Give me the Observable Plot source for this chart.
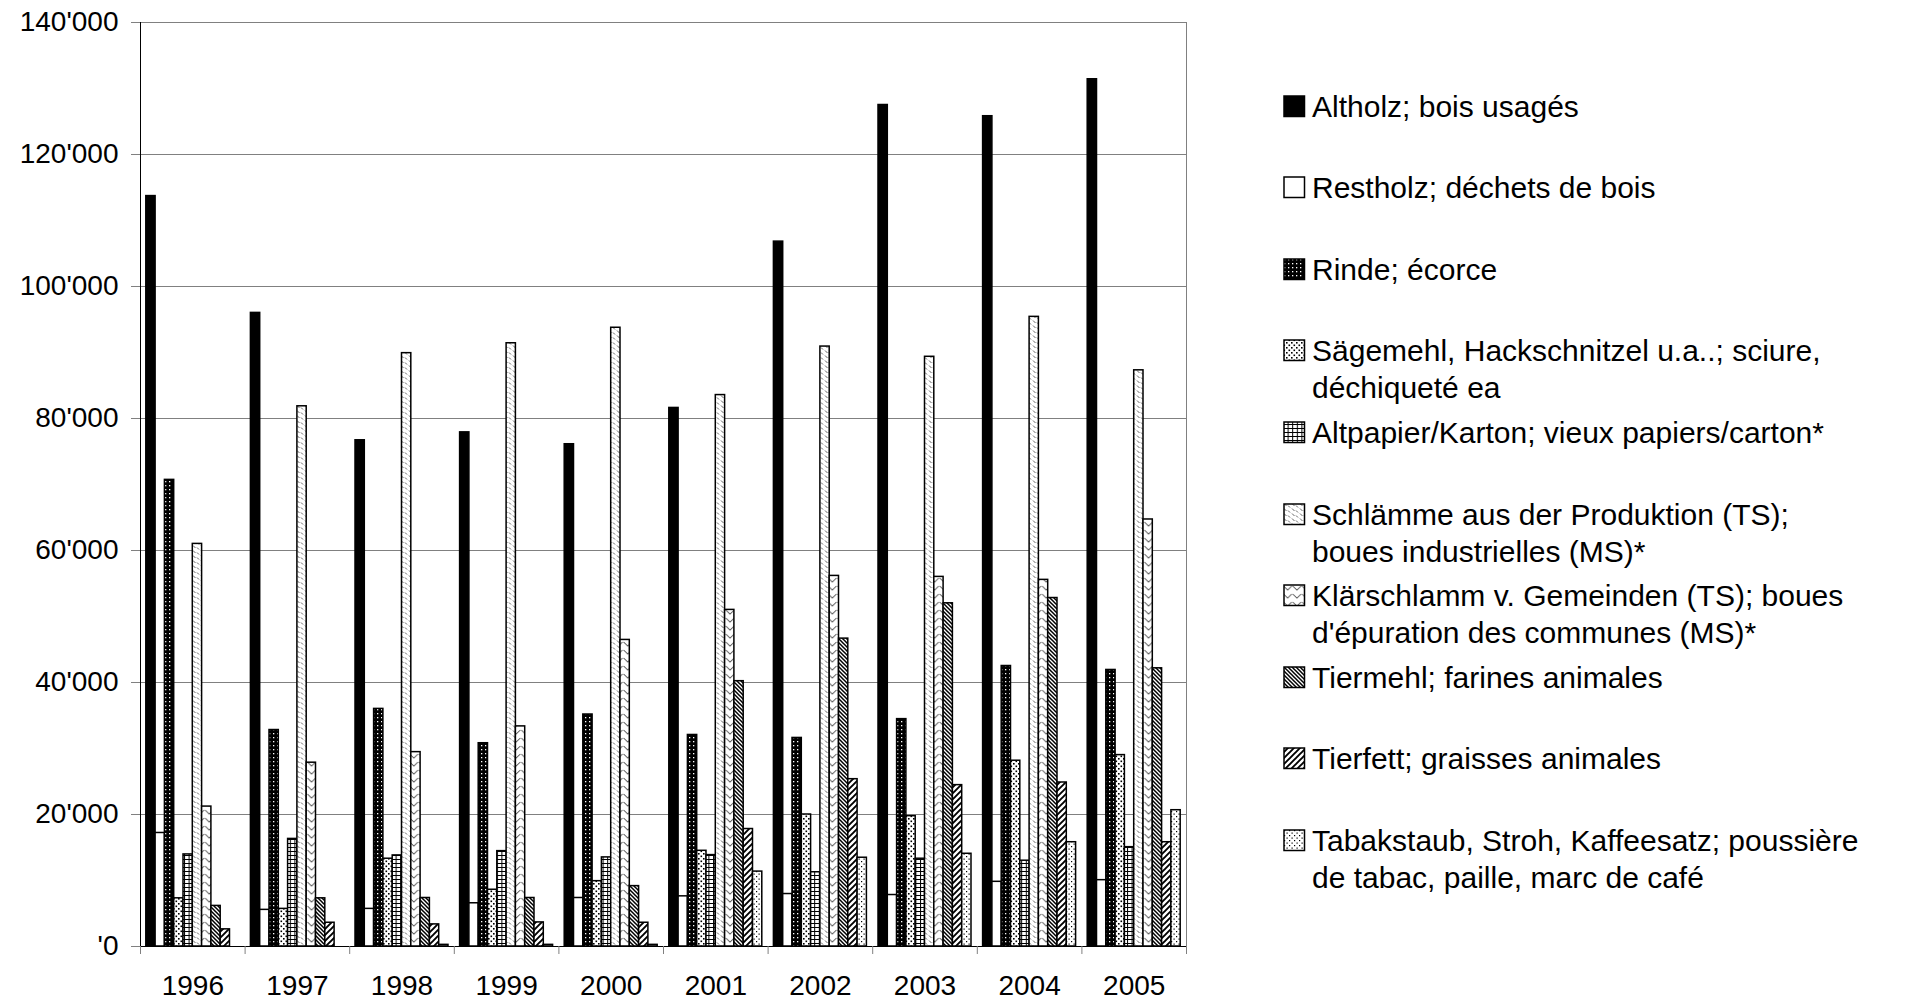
<!DOCTYPE html>
<html>
<head>
<meta charset="utf-8">
<script src="https://cdn.jsdelivr.net/npm/d3@7"></script>
<script src="https://cdn.jsdelivr.net/npm/@observablehq/plot@0.6"></script>
<style>
  html, body { margin: 0; padding: 0; background: white; }
  #wrap { position: relative; width: 1921px; height: 1003px; overflow: hidden; font-family: "Liberation Sans", Arial, sans-serif; }
  #legend .item { position: absolute; }
  #legend .txt { position: absolute; left: 29px; top: 0; font-size: 30px; line-height: 37px; white-space: pre; color: black; }
  #legend svg { position: absolute; left: 0; }
</style>
</head>
<body>
<svg width="0" height="0" style="position:absolute">
  <defs>
    <pattern id="pat0" patternUnits="userSpaceOnUse" width="4" height="4">
      <rect width="4" height="4" fill="black"/>
    </pattern>
    <pattern id="pat1" patternUnits="userSpaceOnUse" width="4" height="4">
      <rect width="4" height="4" fill="white"/>
    </pattern>
    <pattern id="pat2" patternUnits="userSpaceOnUse" width="4" height="4">
      <rect width="4" height="4" fill="black"/>
      <rect x="1" y="1" width="1.3" height="1.3" fill="white"/>
    </pattern>
    <pattern id="pat3" patternUnits="userSpaceOnUse" width="5" height="5">
      <rect width="5" height="5" fill="white"/>
      <rect x="0.5" y="0.5" width="1.6" height="1.6" fill="black"/>
      <rect x="3" y="3" width="1.6" height="1.6" fill="black"/>
    </pattern>
    <pattern id="pat4" patternUnits="userSpaceOnUse" width="4.6" height="4">
      <rect width="4.6" height="4" fill="white"/>
      <rect x="0" y="3" width="4.6" height="1" fill="black"/>
      <rect x="0" y="0" width="1" height="4" fill="black"/>
    </pattern>
    <pattern id="pat5" patternUnits="userSpaceOnUse" width="8" height="5">
      <rect width="8" height="5" fill="white"/>
      <path d="M1,0.5 L3.5,3 M5,2.5 L7,4.5" stroke="#666" stroke-width="1" fill="none"/>
    </pattern>
    <pattern id="pat6" patternUnits="userSpaceOnUse" width="9.3" height="8">
      <rect width="9.3" height="8" fill="white"/>
      <path d="M0.5,2 L4.65,6 L8.8,2" stroke="#555" stroke-width="1" fill="none"/>
    </pattern>
    <pattern id="pat7" patternUnits="userSpaceOnUse" width="4" height="4">
      <rect width="4" height="4" fill="white"/>
      <path d="M-1,-1 L5,5 M-1,3 L1,5 M3,-1 L5,1" stroke="black" stroke-width="1.5"/>
    </pattern>
    <pattern id="pat8" patternUnits="userSpaceOnUse" width="6" height="6">
      <rect width="6" height="6" fill="white"/>
      <path d="M-1,7 L7,-1 M-1,1 L1,-1 M5,7 L7,5" stroke="black" stroke-width="1.9"/>
    </pattern>
    <pattern id="pat9" patternUnits="userSpaceOnUse" width="5" height="5">
      <rect width="5" height="5" fill="white"/>
      <rect x="1" y="1" width="1.2" height="1.2" fill="black"/>
      <rect x="3.5" y="3.5" width="1.2" height="1.2" fill="black"/>
    </pattern>
  </defs>
</svg>
<div id="wrap">
  <div id="chart"></div>
  <div id="legend"></div>
</div>
<script>
// ---- data ----
const years = ["1996", "1997", "1998", "1999", "2000", "2001", "2002", "2003", "2004", "2005"];

const seriesLabels = [
  "Altholz; bois usagés",
  "Restholz; déchets de bois",
  "Rinde; écorce",
  "Sägemehl, Hackschnitzel u.a..; sciure,\ndéchiqueté ea",
  "Altpapier/Karton; vieux papiers/carton*",
  "Schlämme aus der Produktion (TS);\nboues industrielles (MS)*",
  "Klärschlamm v. Gemeinden (TS); boues\nd'épuration des communes (MS)*",
  "Tiermehl; farines animales",
  "Tierfett; graisses animales",
  "Tabakstaub, Stroh, Kaffeesatz; poussière\nde tabac, paille, marc de café"
];

const altholz     = [113700, 96000, 76700, 77900, 76100, 81600, 106800, 127500, 125800, 131400];
const restholz    = [17200, 5550, 5700, 6550, 7350, 7600, 7950, 7800, 9800, 10050];
const rinde       = [70700, 32800, 36000, 30800, 35150, 32050, 31600, 34450, 42500, 41900];
const saegemehl   = [7300, 5700, 13300, 8600, 9900, 14500, 20000, 19750, 28150, 29000];
const altpapier   = [13950, 16300, 13800, 14450, 13500, 13850, 11250, 13300, 13000, 15050];
const schlaemme   = [61000, 81850, 89900, 91400, 93750, 83550, 90900, 89350, 95400, 87300];
const klaerschl   = [21200, 27850, 29450, 33350, 46450, 51000, 56150, 56000, 55550, 64700];
const tiermehl    = [6150, 7300, 7350, 7350, 9150, 40200, 46650, 52000, 52800, 42150];
const tierfett    = [2600, 3600, 3350, 3650, 3600, 17800, 25350, 24450, 24850, 15800];
const tabak       = [0, 0, 250, 250, 250, 11350, 13450, 14050, 15800, 20650];

const yTicks = [0, 20000, 40000, 60000, 80000, 100000, 120000, 140000];
const yTickLabels = ["'0", "20'000", "40'000", "60'000", "80'000", "100'000", "120'000", "140'000"];

// ---- build ----
const seriesValues = [altholz, restholz, rinde, saegemehl, altpapier, schlaemme, klaerschl, tiermehl, tierfett, tabak];
const nSeries = seriesValues.length;
const groupFill = 0.889;               // share of a category used by the bar cluster
const barW = groupFill / nSeries;
const groupPad = (1 - groupFill) / 2;

const rows = [];
seriesValues.forEach((vals, si) => {
  vals.forEach((v, yi) => {
    rows.push({si, yi, year: years[yi], value: v,
      x1: yi + groupPad + si * barW, x2: yi + groupPad + (si + 1) * barW});
  });
});

const bars = seriesValues.map((_, si) =>
  Plot.rectY(rows.filter(r => r.si === si && r.value > 0), {
    x1: "x1", x2: "x2", y1: 0, y2: "value",
    fill: `url(#pat${si})`, stroke: "black", strokeWidth: 1.5
  })
);

const boundaries = d3.range(years.length + 1);
const centers = years.map((_, i) => i + 0.5);

const chart = Plot.plot({
  width: 1921, height: 1003,
  marginLeft: 140, marginRight: 735, marginTop: 22, marginBottom: 57,
  style: {fontFamily: "'Liberation Sans', Arial, sans-serif", fontSize: "28px", background: "white", color: "black"},
  x: {type: "linear", domain: [0, years.length]},
  y: {domain: [0, 140000]},
  marks: [
    Plot.gridY(yTicks, {stroke: "#808080", strokeOpacity: 1, strokeWidth: 1}),
    Plot.frame({stroke: "#808080"}),
    ...bars,
    Plot.ruleX([0], {stroke: "black"}),
    Plot.ruleY([0], {stroke: "black"}),
    Plot.axisY(yTicks, {tickSize: 9, tickPadding: 13, stroke: "#808080", fill: "black",
      tickFormat: d => yTickLabels[yTicks.indexOf(d)], label: null, fontSize: 28}),
    Plot.axisX(boundaries, {tickSize: 8, tickFormat: () => "", stroke: "#808080", label: null}),
    Plot.axisX(centers, {tickSize: 0, tickPadding: 29, fill: "black",
      tickFormat: d => years[Math.floor(d)], label: null, fontSize: 28})
  ]
});
document.getElementById("chart").appendChild(chart);

// ---- legend ----
const legend = d3.select("#legend");
const firstLine = 106, step = 81.6, lineH = 37;
seriesLabels.forEach((lab, i) => {
  const cy = firstLine + i * step;
  const item = legend.append("div").attr("class", "item")
    .style("left", "1283px").style("top", (cy - lineH / 2) + "px");
  const sw = item.append("svg").attr("width", 23).attr("height", 23)
    .style("top", (lineH / 2 - 11.5) + "px");
  sw.append("rect").attr("x", 1).attr("y", 1).attr("width", 20.5).attr("height", 20.5)
    .attr("fill", `url(#pat${i})`).attr("stroke", "black").attr("stroke-width", 1.5);
  item.append("div").attr("class", "txt").text(lab);
});
</script>
</body>
</html>
